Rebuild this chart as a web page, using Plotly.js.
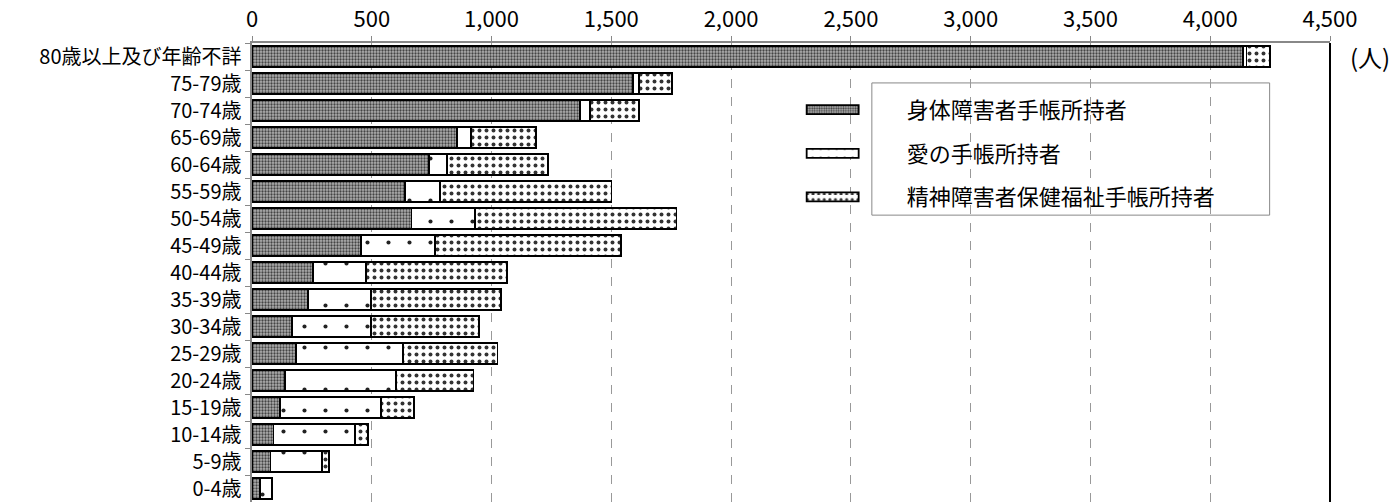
<!DOCTYPE html>
<html><head><meta charset="utf-8">
<script src="https://cdn.plot.ly/plotly-3.0.1.min.js"></script>
<style>html,body{margin:0;padding:0;background:#fff;}#chart{width:1394px;height:502px;}</style>
</head><body><div id="chart"></div>
<script>
const categories = ["80歳以上及び年齢不詳","75-79歳","70-74歳","65-69歳","60-64歳","55-59歳","50-54歳","45-49歳","40-44歳","35-39歳","30-34歳","25-29歳","20-24歳","15-19歳","10-14歳","5-9歳","0-4歳"];
const physical =     [4136,1591,1369,856,740,640,666,455,253,235,166,182,138,116,90,77,32];
const intellectual = [15,24,42,57,75,145,265,309,222,262,331,447,463,424,341,214,53];
const mental =       [100,137,203,274,422,716,841,776,591,542,450,396,324,136,54,29,0];
const seriesNames = ["身体障害者手帳所持者","愛の手帳所持者","精神障害者保健福祉手帳所持者"];
const xTicks = [0,500,1000,1500,2000,2500,3000,3500,4000,4500];
const xTickText = ["0","500","1,000","1,500","2,000","2,500","3,000","3,500","4,000","4,500"];

const FONT = '"Noto Sans CJK JP", "Noto Sans", sans-serif';
const line = {color:'#000', width:1.8};
const traces = [
  {name:seriesNames[0], y:categories, x:physical, type:'bar', orientation:'h', legendgroup:'a',
   marker:{color:'#8c8c8c', line:line, pattern:{shape:'.', fgcolor:'#444', bgcolor:'#b0b0b0', size:3, solidity:0.45}}},
  {name:seriesNames[1], y:categories, x:intellectual, type:'bar', orientation:'h', legendgroup:'b',
   marker:{color:'#fff', line:line, pattern:{shape:'.', fgcolor:'#222', bgcolor:'#fff', size:21, solidity:0.03}}},
  {name:seriesNames[2], y:categories, x:mental, type:'bar', orientation:'h', legendgroup:'c',
   marker:{color:'#eee', line:line, pattern:{shape:'.', fgcolor:'#333', bgcolor:'#fff', size:7, solidity:0.25}}}
];

const layout = {
  width:1394, height:502,
  margin:{l:252, r:64, t:43, b:0, pad:0},
  paper_bgcolor:'#fff', plot_bgcolor:'#fff',
  font:{family:FONT, size:22, color:'#000'},
  barmode:'stack', bargap:0.22,
  showlegend:true,
  legend:{x:0.47, xanchor:'left', y:0.9, yanchor:'top', traceorder:'grouped', tracegroupgap:12,
          font:{family:FONT, size:22, color:'#000'}, bgcolor:'rgba(0,0,0,0)', borderwidth:0, itemwidth:138},
  xaxis:{side:'top', range:[0,4500], tickvals:xTicks, ticktext:xTickText, showgrid:true,
         gridcolor:'#999', griddash:'dash', gridwidth:1, zeroline:false,
         showline:true, linecolor:'#888', linewidth:2, ticks:'outside', ticklen:5, tickcolor:'#888',
         tickfont:{family:FONT, size:22, color:'#000'}, fixedrange:true},
  yaxis:{type:'category', range:[16.5,-0.5], showline:true, linecolor:'#888', linewidth:2,
         ticks:'outside', tickson:'boundaries', ticklen:5, tickcolor:'#888', showgrid:false,
         tickfont:{family:FONT, size:20, color:'#000'}, ticksuffix:' ', fixedrange:true},
  shapes:[
    {type:'rect', xref:'paper', yref:'paper', x0:0.575, x1:0.944, y0:0.625, y1:0.913,
     line:{color:'#888', width:1}, fillcolor:'#fff', layer:'between'},
    {type:'line', xref:'paper', yref:'paper', x0:1, x1:1, y0:0, y1:1, line:{color:'#000', width:2}}
  ],
  annotations:[
    {text:'(人)', xref:'paper', yref:'paper', x:1, y:1, xanchor:'left', yanchor:'top', xshift:18, yshift:6,
     showarrow:false, font:{family:FONT, size:24, color:'#000'}}
  ]
};
Plotly.newPlot('chart', traces, layout, {displayModeBar:false, staticPlot:true}).then(function(gd){
  gd.querySelectorAll('.legend .legendpoints path').forEach(function(p){
    p.setAttribute('d','M26,4.5H-26V-4.5H26Z');
    p.style.strokeWidth = '1.8px';
  });
});
</script></body></html>
